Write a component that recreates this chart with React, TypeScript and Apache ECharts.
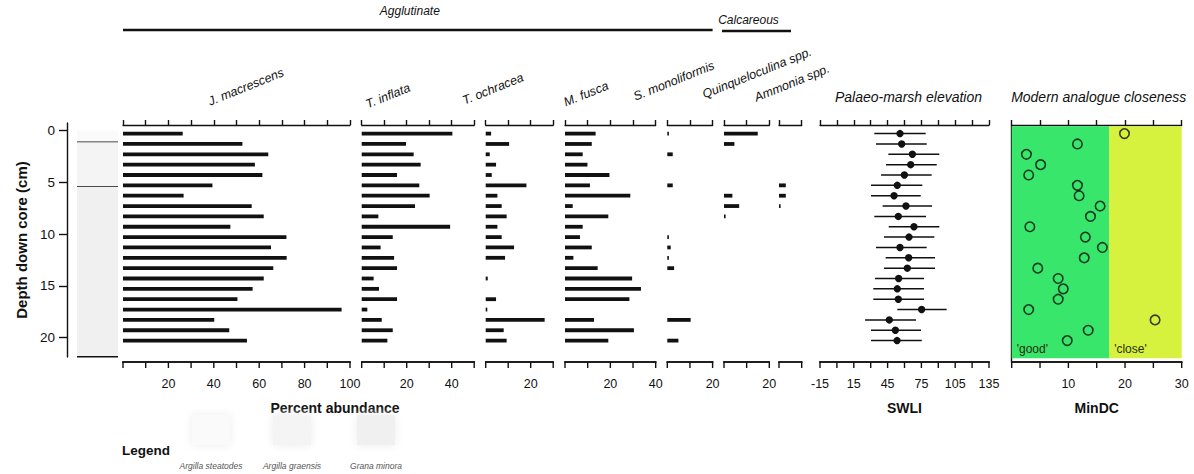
import React, { useEffect, useRef } from 'react';
import * as echarts from 'echarts';

// Sample depths (cm below surface), one per counted sample
const depths = [0.3, 1.3, 2.3, 3.3, 4.3, 5.3, 6.3, 7.3, 8.3, 9.3, 10.3, 11.3, 12.3, 13.3, 14.3, 15.3, 16.3, 17.3, 18.3, 19.3, 20.3];

// Foraminifera percent abundances, top to bottom
const jMacrescens = [26.3, 52.6, 64.0, 58.1, 61.4, 39.4, 26.7, 56.7, 62.0, 47.3, 72.0, 65.2, 72.1, 66.2, 62.0, 57.1, 50.4, 96.3, 40.2, 46.8, 54.6];
const tInflata = [40.3, 19.7, 23.1, 26.2, 15.7, 25.6, 30.2, 23.7, 7.4, 39.3, 13.8, 8.4, 14.4, 15.7, 5.3, 7.7, 15.7, 2.5, 8.9, 13.8, 11.4];
const tOchracea = [2.4, 10.4, 1.8, 4.6, 2.7, 18.1, 5.2, 7.1, 9.3, 5.2, 7.1, 12.6, 8.6, 0, 0.9, 0, 4.6, 0.3, 26.2, 8.0, 9.3];
const mFusca = [13.5, 11.8, 7.8, 9.9, 19.6, 11.0, 28.8, 3.4, 19.1, 7.8, 6.6, 11.8, 3.7, 14.4, 29.6, 33.5, 28.4, 0, 12.8, 30.4, 19.1];
const sMoniliformis = [0.3, 0, 2.4, 0, 0, 2.4, 0, 0, 0, 0, 0.3, 1.5, 0.3, 3.0, 0, 0, 0, 0, 10.3, 0, 4.9];
const quinqueloculina = [14.9, 4.6, 0, 0, 0, 0, 3.7, 6.7, 0.5, 0, 0, 0, 0, 0, 0, 0, 0, 0, 0, 0, 0];
const ammonia = [0, 0, 0, 0, 0, 3.0, 3.0, 0.7, 0, 0, 0, 0, 0, 0, 0, 0, 0, 0, 0, 0, 0];

// Transfer-function reconstruction (SWLI) with sample-specific error range
const swli = [56.0, 57.5, 67.0, 65.5, 59.9, 53.6, 50.7, 61.3, 54.5, 68.4, 64.0, 56.0, 63.7, 62.5, 54.8, 53.6, 54.5, 75.2, 46.5, 51.9, 53.4];
const swliLow = [33.2, 34.7, 45.7, 43.6, 39.2, 30.3, 30.3, 40.6, 33.2, 46.0, 41.8, 34.7, 43.3, 41.8, 33.8, 32.3, 32.3, 53.6, 25.0, 30.3, 30.3];
const swliHigh = [78.8, 79.7, 90.9, 88.6, 84.1, 75.8, 74.4, 84.4, 79.1, 90.9, 86.5, 79.7, 87.1, 87.1, 77.3, 77.3, 77.3, 97.4, 70.2, 74.7, 75.3];

// Minimum dissimilarity coefficient to the modern training set
const minDC = [19.9, 11.6, 2.6, 5.1, 3.0, 11.6, 11.9, 15.6, 13.9, 3.2, 13.0, 16.0, 12.8, 4.6, 8.2, 9.1, 8.2, 3.0, 25.3, 13.5, 9.8];
const analogueLimits = [0, 17.2, 30];
const analogueNames = ["'good'", "'close'"];

// Lithology (Troels-Smith units), depth boundaries in cm
const lithoTop = [0, 1.14, 5.43];
const lithoBottom = [1.14, 5.43, 21.86];
const lithoNames = ['Argilla steatodes', 'Argilla graensis', 'Grana minora'];

const FONT = '"Liberation Sans", Arial, Helvetica, sans-serif';
const INK = '#111111';
const GREEN = '#38e66c';
const YELLOW = '#d6f23e';
const LITHO_FILL = ['#fafafa', '#f4f4f4', '#f0f0f0'];

// depth scale shared by every panel: pixel row of 0 cm and pixels per cm
const Y0 = 130.5;
const PX_CM = 10.35;
const depthAt = (px: number) => (px - Y0) / PX_CM;
const P_TOP = 125;
const P_BOTTOM = 362;
const H = 474;

type Panel = { name: string; values: number[]; max: number; left: number; width: number; lx: number; ly: number };
const panels: Panel[] = [
  { name: 'J. macrescens', values: jMacrescens, max: 100, left: 123, width: 227, lx: 246, ly: 87 },
  { name: 'T. inflata', values: tInflata, max: 50, left: 361.7, width: 112.5, lx: 388, ly: 96 },
  { name: 'T. ochracea', values: tOchracea, max: 30, left: 485.7, width: 67.5, lx: 493, ly: 89 },
  { name: 'M. fusca', values: mFusca, max: 40, left: 565, width: 90.7, lx: 586, ly: 94 },
  { name: 'S. monoliformis', values: sMoniliformis, max: 20, left: 667.3, width: 45.3, lx: 674, ly: 81 },
  { name: 'Quinqueloculina spp.', values: quinqueloculina, max: 20, left: 724, width: 45.3, lx: 757, ly: 73 },
  { name: 'Ammonia spp.', values: ammonia, max: 10, left: 779, width: 22.7, lx: 792, ly: 83 },
];
const swliPanel = { left: 820, width: 169 };
const mindcPanel = { left: 1011.7, width: 170 };
const lithoPanel = { left: 77, width: 41, top: 123, bottom: 357 };

const mkLine = () => ({ show: true, onZero: false, lineStyle: { color: INK, width: 1.4 } });

type Strip = { xAxisIndex: number; min: number; max: number; interval: number };

function buildOption() {
  const grid: any[] = [];
  const xAxis: any[] = [];
  const yAxis: any[] = [];
  const series: any[] = [];
  const strips: Strip[] = [];

  // each panel: a data grid carrying the upper scale, plus a strip below it carrying the lower scale
  const addPanelAxes = (left: number, width: number, min: number, max: number, interval: number, fmt: (v: number) => string) => {
    const gi = grid.length;
    grid.push({ left, width, top: P_TOP, height: P_BOTTOM - P_TOP });
    const xi = xAxis.length;
    xAxis.push({
      type: 'value', gridIndex: gi, position: 'top', min, max, interval,
      axisLine: mkLine(), axisTick: { show: true, length: 5, lineStyle: { color: INK, width: 1.4 } },
      splitLine: { show: false }, axisLabel: { show: false },
    });
    const yi = yAxis.length;
    yAxis.push({ type: 'value', gridIndex: gi, inverse: true, min: depthAt(P_TOP), max: depthAt(P_BOTTOM), show: false, splitLine: { show: false } });

    // strip under the panel: same horizontal scale, unit vertical scale (0 = panel's lower edge)
    const gl = grid.length;
    grid.push({ left, width, top: P_BOTTOM, height: 30 });
    const xl = xAxis.length;
    xAxis.push({ type: 'value', gridIndex: gl, min, max, interval, show: false, splitLine: { show: false } });
    const yl = yAxis.length;
    yAxis.push({ type: 'value', gridIndex: gl, inverse: true, min: 0, max: 1, show: false, splitLine: { show: false } });
    strips.push({ xAxisIndex: xl, min, max, interval });

    const ticks: number[] = [];
    for (let v = min; v <= max + 1e-9; v += interval) ticks.push(v);
    series.push({
      type: 'custom', xAxisIndex: xl, yAxisIndex: yl, silent: true, name: 'lower scale', clip: false, z: 20,
      data: ticks.map((v) => [v, 0]),
      encode: { x: 0, y: 1 },
      renderItem: (params: any, api: any) => {
        const v = api.value(0);
        const p = api.coord([v, 0]);
        const children: any[] = [
          { type: 'rect', shape: { x: p[0] - 0.7, y: p[1], width: 1.4, height: 6 }, style: { fill: INK } },
        ];
        const label = fmt(v);
        if (label) {
          children.push({ type: 'text', x: p[0], y: p[1] + 15, style: { text: label, fill: INK, font: `12.5px ${FONT}`, textAlign: 'center', textVerticalAlign: 'top' } });
        }
        if (params.dataIndex === 0) {
          const a = api.coord([min, 0]);
          const b = api.coord([max, 0]);
          children.push({ type: 'rect', shape: { x: a[0] - 0.7, y: a[1] - 0.7, width: b[0] - a[0] + 1.4, height: 1.4 }, style: { fill: INK } });
        }
        return { type: 'group', children };
      },
    });
    return { xi, yi };
  };

  // percent abundance panels
  panels.forEach((p) => {
    const { xi, yi } = addPanelAxes(p.left, p.width, 0, p.max, 10, (v) => (v > 0 && v % 20 === 0 ? String(v) : ''));
    series.push({
      type: 'custom', xAxisIndex: xi, yAxisIndex: yi, name: p.name,
      data: p.values.map((v, i) => [v, depths[i]]),
      encode: { x: 0, y: 1 },
      renderItem: (params: any, api: any) => {
        const v = api.value(0);
        const d = api.value(1);
        if (!(v > 0)) return null;
        const a = api.coord([0, d]);
        const b = api.coord([v, d]);
        return { type: 'rect', shape: { x: a[0], y: a[1] - 1.9, width: Math.max(b[0] - a[0], 1.6), height: 3.8 }, style: { fill: INK } };
      },
    });
  });

  // SWLI reconstruction
  {
    const { xi, yi } = addPanelAxes(swliPanel.left, swliPanel.width, -15, 135, 15, (v) => ((v + 15) % 30 === 0 ? String(v) : ''));
    series.push({
      type: 'custom', xAxisIndex: xi, yAxisIndex: yi, name: 'SWLI',
      data: swli.map((v, i) => [v, swliLow[i], swliHigh[i], depths[i]]),
      encode: { x: [0, 1, 2], y: 3 },
      renderItem: (params: any, api: any) => {
        const d = api.value(3);
        const c = api.coord([api.value(0), d]);
        const lo = api.coord([api.value(1), d]);
        const hi = api.coord([api.value(2), d]);
        return {
          type: 'group',
          children: [
            { type: 'line', shape: { x1: lo[0], y1: lo[1], x2: hi[0], y2: hi[1] }, style: { stroke: INK, lineWidth: 1.5 } },
            { type: 'circle', shape: { cx: c[0], cy: c[1], r: 3.7 }, style: { fill: INK } },
          ],
        };
      },
    });
  }

  // MinDC with analogue-quality zones
  {
    const { xi, yi } = addPanelAxes(mindcPanel.left, mindcPanel.width, 0, 30, 5, (v) => (v > 0 && v % 10 === 0 ? String(v) : ''));
    yAxis[yi].show = true;
    yAxis[yi].axisLine = mkLine();
    yAxis[yi].axisTick = { show: false };
    yAxis[yi].axisLabel = { show: false };
    const zoneTop = -0.4;
    const zoneBottom = 22.0;
    series.push({
      type: 'custom', xAxisIndex: xi, yAxisIndex: yi, z: 1, silent: true, name: 'zones',
      data: analogueNames.map((n, i) => [analogueLimits[i], analogueLimits[i + 1]]),
      encode: { x: [0, 1] },
      renderItem: (params: any, api: any) => {
        const a = api.coord([api.value(0), zoneTop]);
        const b = api.coord([api.value(1), zoneBottom]);
        return {
          type: 'group',
          children: [
            { type: 'rect', shape: { x: a[0], y: a[1], width: b[0] - a[0], height: b[1] - a[1] }, style: { fill: params.dataIndex === 0 ? GREEN : YELLOW } },
            { type: 'text', x: a[0] + 5, y: b[1] - 3, style: { text: analogueNames[params.dataIndex], fill: '#2a2a10', font: `12px ${FONT}`, textVerticalAlign: 'bottom', textAlign: 'left' } },
          ],
        };
      },
    });
    series.push({
      type: 'scatter', xAxisIndex: xi, yAxisIndex: yi, z: 3, name: 'MinDC',
      data: minDC.map((v, i) => [v, depths[i]]),
      symbol: 'circle', symbolSize: 9.5,
      itemStyle: { color: 'rgba(0,0,0,0)', borderColor: INK, borderWidth: 1.6 },
    });
  }

  // lithology column with the depth axis
  {
    const gi = grid.length;
    grid.push({ left: lithoPanel.left, width: lithoPanel.width, top: lithoPanel.top, height: lithoPanel.bottom - lithoPanel.top });
    const xi = xAxis.length;
    xAxis.push({ type: 'value', gridIndex: gi, min: 0, max: 1, show: false });
    const yi = yAxis.length;
    yAxis.push({
      type: 'value', gridIndex: gi, inverse: true, position: 'left', offset: 10,
      min: depthAt(lithoPanel.top), max: depthAt(lithoPanel.bottom),
      axisLine: mkLine(), axisTick: { show: true, length: 8, lineStyle: { color: INK, width: 1.4 }, customValues: [0, 5, 10, 15, 20] },
      axisLabel: { show: true, margin: 12, color: INK, fontFamily: FONT, fontSize: 13.5, customValues: [0, 5, 10, 15, 20] },
      splitLine: { show: false },
      name: 'Depth down core (cm)', nameLocation: 'middle', nameGap: 38,
      nameTextStyle: { fontFamily: FONT, fontSize: 15, fontWeight: 'bold', color: INK },
    });
    series.push({
      type: 'custom', xAxisIndex: xi, yAxisIndex: yi, name: 'lithology', silent: true,
      data: lithoTop.map((t, i) => [t, lithoBottom[i]]),
      encode: { y: [0, 1] },
      renderItem: (params: any, api: any) => {
        const a = api.coord([0, api.value(0)]);
        const b = api.coord([1, api.value(1)]);
        return {
          type: 'group',
          children: [
            { type: 'rect', shape: { x: a[0], y: a[1], width: b[0] - a[0], height: b[1] - a[1] }, style: { fill: LITHO_FILL[params.dataIndex] } },
            { type: 'line', shape: { x1: a[0], y1: b[1], x2: b[0], y2: b[1] }, style: { stroke: INK, lineWidth: 1.6 } },
          ],
        };
      },
    });
  }

  // titles, group headers and legend
  const graphic: any[] = [];
  panels.forEach((p) => {
    graphic.push({
      type: 'text', x: p.lx, y: p.ly, rotation: (22 * Math.PI) / 180,
      style: { text: p.name, font: `italic 12.5px ${FONT}`, fill: INK, textAlign: 'center', textVerticalAlign: 'middle' },
    });
  });
  const headers = [
    { text: 'Agglutinate', from: panels[0].left, to: panels[4].left + panels[4].width, y: 30, ty: 11 },
    { text: 'Calcareous', from: panels[5].left - 2, to: panels[6].left + 12, y: 31, ty: 20 },
  ];
  headers.forEach((h) => {
    graphic.push({ type: 'line', shape: { x1: h.from, y1: h.y, x2: h.to, y2: h.y }, style: { stroke: INK, lineWidth: 2.6 } });
    graphic.push({ type: 'text', x: (h.from + h.to) / 2 - 8, y: h.ty, style: { text: h.text, font: `italic 12px ${FONT}`, fill: INK, textAlign: 'center', textVerticalAlign: 'middle' } });
  });
  graphic.push({ type: 'text', x: swliPanel.left + swliPanel.width / 2 + 4, y: 97, style: { text: 'Palaeo-marsh elevation', font: `italic 14px ${FONT}`, fill: INK, textAlign: 'center', textVerticalAlign: 'middle' } });
  graphic.push({ type: 'text', x: mindcPanel.left + mindcPanel.width / 2 + 2, y: 97, style: { text: 'Modern analogue closeness', font: `italic 14px ${FONT}`, fill: INK, textAlign: 'center', textVerticalAlign: 'middle' } });

  const xTitles = [
    { text: 'Percent abundance', x: 335 },
    { text: 'SWLI', x: swliPanel.left + swliPanel.width / 2 },
    { text: 'MinDC', x: mindcPanel.left + mindcPanel.width / 2 },
  ];
  xTitles.forEach((t) => {
    graphic.push({ type: 'text', x: t.x, y: 408, style: { text: t.text, font: `bold 14px ${FONT}`, fill: INK, textAlign: 'center', textVerticalAlign: 'middle' } });
  });

  graphic.push({ type: 'text', x: 122, y: 450, style: { text: 'Legend', font: `bold 13.5px ${FONT}`, fill: INK, textAlign: 'left', textVerticalAlign: 'middle' } });
  const legendX = [211, 292, 376];
  lithoNames.forEach((n, i) => {
    graphic.push({ type: 'rect', shape: { x: legendX[i] - 19, y: 415, width: 38, height: 30 }, style: { fill: LITHO_FILL[i], shadowBlur: 10, shadowColor: '#ececec' } });
    graphic.push({ type: 'text', x: legendX[i], y: 466, style: { text: n, font: `italic 8.5px ${FONT}`, fill: '#555', textAlign: 'center', textVerticalAlign: 'middle' } });
  });

  return {
    option: {
      animation: false,
      backgroundColor: '#ffffff',
      textStyle: { fontFamily: FONT },
      grid, xAxis, yAxis, series, graphic,
    },
    graphic,
    strips,
  };
}

export default function App() {
  const ref = useRef<HTMLDivElement>(null);
  useEffect(() => {
    if (!ref.current) return;
    const chart = echarts.init(ref.current, undefined, { renderer: 'svg' });
    const { option, graphic, strips } = buildOption();
    chart.setOption(option);

    // lower scale baselines as well, placed with each strip axis' value-to-pixel conversion
    try {
      const marks: any[] = [];
      strips.forEach((s) => {
        const a = chart.convertToPixel({ xAxisIndex: s.xAxisIndex } as any, s.min) as any;
        const b = chart.convertToPixel({ xAxisIndex: s.xAxisIndex } as any, s.max) as any;
        const x0 = Array.isArray(a) ? a[0] : a;
        const x1 = Array.isArray(b) ? b[0] : b;
        if (typeof x0 !== 'number' || typeof x1 !== 'number' || !isFinite(x0) || !isFinite(x1)) return;
        marks.push({ type: 'rect', z: 100, shape: { x: x0 - 0.7, y: P_BOTTOM - 0.7, width: x1 - x0 + 1.4, height: 1.4 }, style: { fill: INK } });
      });
      if (marks.length) chart.setOption({ graphic: [...graphic, ...marks] });
    } catch (e) {
      // keep the chart as drawn by the series if conversion is unavailable
    }
    return () => chart.dispose();
  }, []);
  return <div ref={ref} style={{ position: 'absolute', left: 0, top: 0, width: 1194, height: H, background: '#fff' }} />;
}
